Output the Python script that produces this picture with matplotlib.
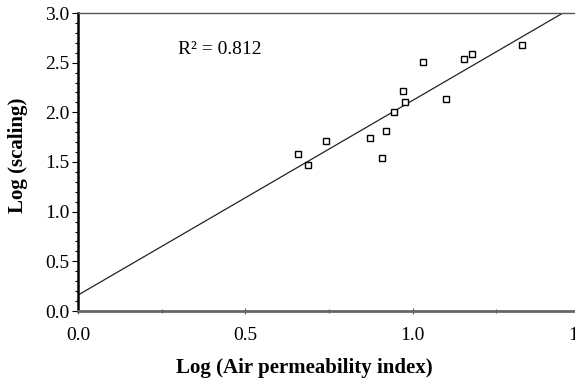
import matplotlib
matplotlib.use("Agg")
import matplotlib.pyplot as plt
from matplotlib.ticker import MultipleLocator
import numpy as np

# datos
log_air = [0.657, 0.688, 0.741, 0.872, 0.908, 0.919, 0.943, 0.970, 0.978,
           1.032, 1.099, 1.152, 1.176, 1.326]
log_scaling = [1.581, 1.473, 1.711, 1.745, 1.540, 1.815, 2.006, 2.218, 2.104,
               2.510, 2.134, 2.540, 2.590, 2.678]
intercepto = 0.16
pendiente = 1.96
r2 = 0.812

plt.rcParams['font.family'] = ['Liberation Serif', 'DejaVu Serif']

fig = plt.figure(figsize=(5.75, 3.85), dpi=100)
ax = fig.add_axes([78 / 575, 74 / 385, (580 - 78) / 575, (311 - 13) / 385])

# linea de regresion
xs = np.array([0.0, 1.5])
ax.plot(xs, intercepto + pendiente * xs, color='#222222', linewidth=0.9)

# puntos
ax.plot(log_air, log_scaling, linestyle='none', marker='s', markersize=4.5,
        markerfacecolor='white', markeredgecolor='black', markeredgewidth=1.0)

ax.text(0.30, 2.63, f'R\u00b2 = {r2}', fontsize=14, va='center', ha='left')

ax.set_xlim(0, 1.5)
ax.set_ylim(0, 3.0)
ax.xaxis.set_major_locator(MultipleLocator(0.5))
ax.xaxis.set_minor_locator(MultipleLocator(0.25))
ax.yaxis.set_major_locator(MultipleLocator(0.5))
ax.yaxis.set_minor_locator(MultipleLocator(0.1))
ax.xaxis.set_major_formatter(plt.FormatStrFormatter('%.1f'))
ax.yaxis.set_major_formatter(plt.FormatStrFormatter('%.1f'))

ax.tick_params(axis='x', which='both', direction='inout', length=5, width=0.8,
               color='#555555', labelsize=14, pad=9)
ax.tick_params(axis='x', which='minor', length=3)
ax.tick_params(axis='y', which='major', direction='out', length=4, width=0.8,
               labelsize=14, pad=2)
ax.tick_params(axis='y', which='minor', direction='out', length=2.5, width=0.8)

ax.spines['right'].set_visible(False)
ax.spines['top'].set_color('#555555')
ax.spines['top'].set_linewidth(1.0)
ax.spines['bottom'].set_color('#666666')
ax.spines['bottom'].set_linewidth(2.0)
ax.spines['left'].set_color('black')
ax.spines['left'].set_linewidth(1.8)

fig.text(18 / 575, 1 - 155 / 385, 'Log (scaling)', rotation=90, fontsize=15,
         fontweight='bold', ha='center', va='center')
fig.text(304 / 575, 1 - 368 / 385, 'Log (Air permeability index)', fontsize=15,
         fontweight='bold', ha='center', va='center')

fig.savefig('out.png', dpi=100)
